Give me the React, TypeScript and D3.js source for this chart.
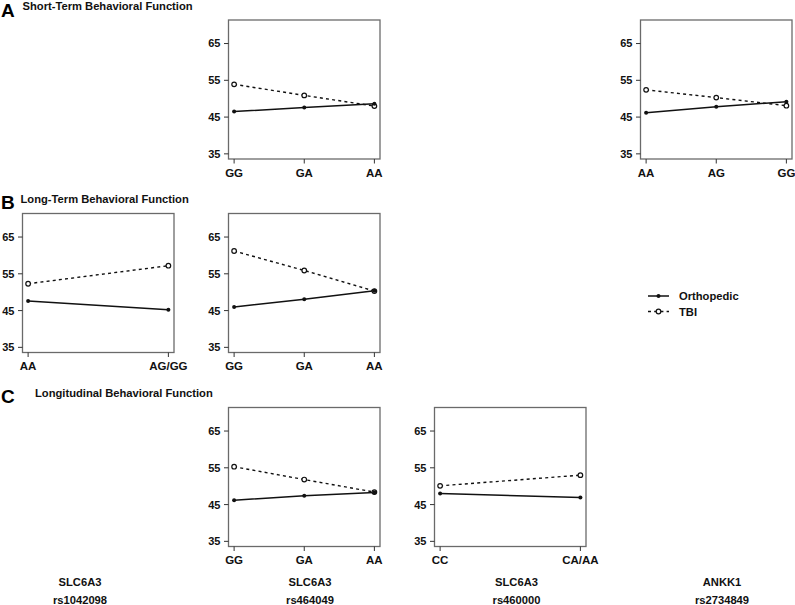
import React from "react";
import * as d3 from "d3";

// ---- data ----
const yTicks = [35, 45, 55, 65];
const yDomain = [35, 70];

const catsRs464049 = ["GG", "GA", "AA"];
const catsRs2734849 = ["AA", "AG", "GG"];
const catsRs1042098 = ["AA", "AG/GG"];
const catsRs460000 = ["CC", "CA/AA"];

// A: Short-Term
const shortRs464049Ortho = [46.5, 47.6, 48.6];
const shortRs464049TBI = [53.9, 50.9, 48.0];
const shortRs2734849Ortho = [46.2, 47.8, 49.2];
const shortRs2734849TBI = [52.4, 50.3, 48.1];
// B: Long-Term
const longRs1042098Ortho = [47.6, 45.2];
const longRs1042098TBI = [52.3, 57.2];
const longRs464049Ortho = [46.0, 48.1, 50.4];
const longRs464049TBI = [61.2, 55.9, 50.3];
// C: Longitudinal
const longitRs464049Ortho = [46.2, 47.4, 48.3];
const longitRs464049TBI = [55.3, 51.8, 48.4];
const longitRs460000Ortho = [48.0, 46.9];
const longitRs460000TBI = [50.1, 53.0];

const sectionLetters = ["A", "B", "C"];
const sectionTitles = [
  "Short-Term Behavioral Function",
  "Long-Term Behavioral Function",
  "Longitudinal Behavioral Function",
];
const geneNames = ["SLC6A3", "SLC6A3", "SLC6A3", "ANKK1"];
const snpNames = ["rs1042098", "rs464049", "rs460000", "rs2734849"];
const legendLabels = ["Orthopedic", "TBI"];

// ---- layout ----
const W = 795;
const H = 605;
const colLeft = [22.5, 228.5, 434.5, 640.5];
const boxW = 151.5;
const rowTop = [20, 213.5, 407.5];
const boxH = 139;
const FONT = "'Liberation Sans', Arial, Helvetica, sans-serif";
const boxColor = "#6a6a6a";

type Panel = { row: number; col: number; cats: string[]; ortho: number[]; tbi: number[] };
const panels: Panel[] = [
  { row: 0, col: 1, cats: catsRs464049, ortho: shortRs464049Ortho, tbi: shortRs464049TBI },
  { row: 0, col: 3, cats: catsRs2734849, ortho: shortRs2734849Ortho, tbi: shortRs2734849TBI },
  { row: 1, col: 0, cats: catsRs1042098, ortho: longRs1042098Ortho, tbi: longRs1042098TBI },
  { row: 1, col: 1, cats: catsRs464049, ortho: longRs464049Ortho, tbi: longRs464049TBI },
  { row: 2, col: 1, cats: catsRs464049, ortho: longitRs464049Ortho, tbi: longitRs464049TBI },
  { row: 2, col: 2, cats: catsRs460000, ortho: longitRs460000Ortho, tbi: longitRs460000TBI },
];

function PanelPlot({ p }: { p: Panel }) {
  const left = colLeft[p.col];
  const top = rowTop[p.row];
  const n = p.cats.length;
  const ext = (n - 1) * 0.04;
  const yExt = (yDomain[1] - yDomain[0]) * 0.04;
  const x = d3.scaleLinear().domain([1 - ext, n + ext]).range([left, left + boxW]);
  const y = d3
    .scaleLinear()
    .domain([yDomain[0] - yExt, yDomain[1] + yExt])
    .range([top + boxH, top]);
  const line = d3
    .line<number>()
    .x((_, i) => x(i + 1))
    .y((v) => y(v));
  const bottom = top + boxH;
  return (
    <g>
      <rect x={left} y={top} width={boxW} height={boxH} fill="none" stroke={boxColor} strokeWidth={1.3} />
      {yTicks.map((t) => (
        <g key={"y" + t}>
          <line x1={left - 4.5} x2={left} y1={y(t)} y2={y(t)} stroke="#333" strokeWidth={1} />
          <text
            x={left - 8}
            y={y(t)}
            dy="0.36em"
            textAnchor="end"
            fontFamily={FONT}
            fontWeight="bold"
            fontSize={11}
            fill="#111"
          >
            {t}
          </text>
        </g>
      ))}
      {p.cats.map((c, i) => (
        <g key={"x" + c}>
          <line x1={x(i + 1)} x2={x(i + 1)} y1={bottom} y2={bottom + 4.5} stroke="#333" strokeWidth={1} />
          <text
            x={x(i + 1)}
            y={bottom + 17.5}
            textAnchor="middle"
            fontFamily={FONT}
            fontWeight="bold"
            fontSize={11.5}
            fill="#111"
          >
            {c}
          </text>
        </g>
      ))}
      <path d={line(p.tbi) || ""} fill="none" stroke="#111" strokeWidth={1.4} strokeDasharray="3,3.2" />
      <path d={line(p.ortho) || ""} fill="none" stroke="#111" strokeWidth={1.5} />
      {p.tbi.map((v, i) => (
        <circle key={"t" + i} cx={x(i + 1)} cy={y(v)} r={2.3} fill="#fff" stroke="#111" strokeWidth={1.2} />
      ))}
      {p.ortho.map((v, i) => (
        <circle key={"o" + i} cx={x(i + 1)} cy={y(v)} r={2} fill="#111" />
      ))}
    </g>
  );
}

const letterPos = [
  { x: 1, y: 17, tx: 22.5, ty: 9.5 },
  { x: 1, y: 209, tx: 20.5, ty: 202.5 },
  { x: 1, y: 403, tx: 35, ty: 397 },
];
const labelCenters = [80, 310, 516.5, 722];

export default function App() {
  return (
    <svg
      width={W}
      height={H}
      viewBox={`0 0 ${W} ${H}`}
      style={{ position: "absolute", left: 0, top: 0, background: "#fff" }}
    >
      <rect x={0} y={0} width={W} height={H} fill="#fff" />
      {sectionLetters.map((l, i) => (
        <g key={l}>
          <text x={letterPos[i].x} y={letterPos[i].y} fontFamily={FONT} fontWeight="bold" fontSize={19} fill="#000">
            {l}
          </text>
          <text x={letterPos[i].tx} y={letterPos[i].ty} fontFamily={FONT} fontWeight="bold" fontSize={11.2} fill="#111">
            {sectionTitles[i]}
          </text>
        </g>
      ))}
      {panels.map((p, i) => (
        <PanelPlot key={i} p={p} />
      ))}
      {/* legend */}
      <g>
        <line x1={648} x2={669} y1={296} y2={296} stroke="#111" strokeWidth={1.5} />
        <circle cx={658.5} cy={296} r={2} fill="#111" />
        <text x={679} y={300} fontFamily={FONT} fontWeight="bold" fontSize={11.2} fill="#111">
          {legendLabels[0]}
        </text>
        <line x1={648} x2={669} y1={311.5} y2={311.5} stroke="#111" strokeWidth={1.4} strokeDasharray="3,3.2" />
        <circle cx={658.5} cy={311.5} r={2.3} fill="#fff" stroke="#111" strokeWidth={1.2} />
        <text x={679} y={315.5} fontFamily={FONT} fontWeight="bold" fontSize={11.2} fill="#111">
          {legendLabels[1]}
        </text>
      </g>
      {/* bottom labels */}
      {geneNames.map((g, i) => (
        <g key={"lab" + i}>
          <text x={labelCenters[i]} y={586} textAnchor="middle" fontFamily={FONT} fontWeight="bold" fontSize={11.2} fill="#111">
            {g}
          </text>
          <text x={labelCenters[i]} y={604} textAnchor="middle" fontFamily={FONT} fontWeight="bold" fontSize={11.2} fill="#111">
            {snpNames[i]}
          </text>
        </g>
      ))}
    </svg>
  );
}
